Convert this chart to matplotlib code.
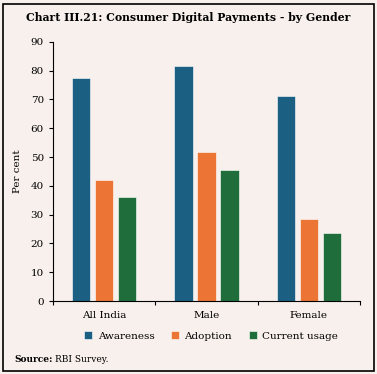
import numpy as np
import matplotlib.pyplot as plt
from matplotlib.patches import Rectangle

# data
categories = ["All India", "Male", "Female"]
series_names = ["Awareness", "Adoption", "Current usage"]
awareness = [77.3, 81.8, 71.2]
adoption = [41.9, 51.7, 28.6]
current_usage = [36.1, 45.5, 23.6]
colors = ["#1b5f82", "#ec7535", "#1e6d3a"]

bg = "#f8f0ec"
plt.rcParams['font.family'] = ['DejaVu Serif']

fig = plt.figure(figsize=(3.77, 3.74), dpi=100, facecolor=bg)
ax = fig.add_axes([0.1406, 0.195, 0.8144, 0.693])
ax.set_facecolor(bg)

x = np.arange(len(categories))
width = 0.18
offsets = [-0.225, 0.0, 0.225]
for vals, name, col, off in zip([awareness, adoption, current_usage], series_names, colors, offsets):
    ax.bar(x + off, vals, width, color=col, label=name, edgecolor="white", linewidth=0.4)

ax.set_xlim(-0.5, 2.5)
ax.set_ylim(0, 90)
ax.set_yticks(range(0, 91, 10))
ax.set_xticks(x)
ax.set_xticklabels(categories)
ax.set_xticks([-0.5, 0.5, 1.5, 2.5], minor=True)
ax.tick_params(axis="x", which="major", length=0, labelsize=7.5, pad=7)
ax.tick_params(axis="x", which="minor", length=3, width=0.8)
ax.tick_params(axis="y", length=3, width=0.8, labelsize=7.5)
ax.set_ylabel("Per cent", fontsize=7.5, labelpad=6)
for s in ["top", "right"]:
    ax.spines[s].set_visible(False)
for s in ["left", "bottom"]:
    ax.spines[s].set_linewidth(0.8)

ax.legend(loc="upper center", bbox_to_anchor=(0.515, -0.08), ncol=3, frameon=False,
          fontsize=7.5, handlelength=0.8, handleheight=0.8, handletextpad=0.5,
          columnspacing=1.6)

fig.text(0.5, 0.953, "Chart III.21: Consumer Digital Payments - by Gender",
         ha="center", va="center", fontsize=7.8, fontweight="bold")
fig.text(0.037, 0.04, "Source:", ha="left", va="center", fontsize=6.5, fontweight="bold")
fig.text(0.145, 0.04, "RBI Survey.", ha="left", va="center", fontsize=6.5)

fig.patches.append(Rectangle((0.008, 0.008), 0.984, 0.982, transform=fig.transFigure,
                             fill=False, edgecolor="black", linewidth=1.2))

fig.savefig("out.png", dpi=100, facecolor=bg)
